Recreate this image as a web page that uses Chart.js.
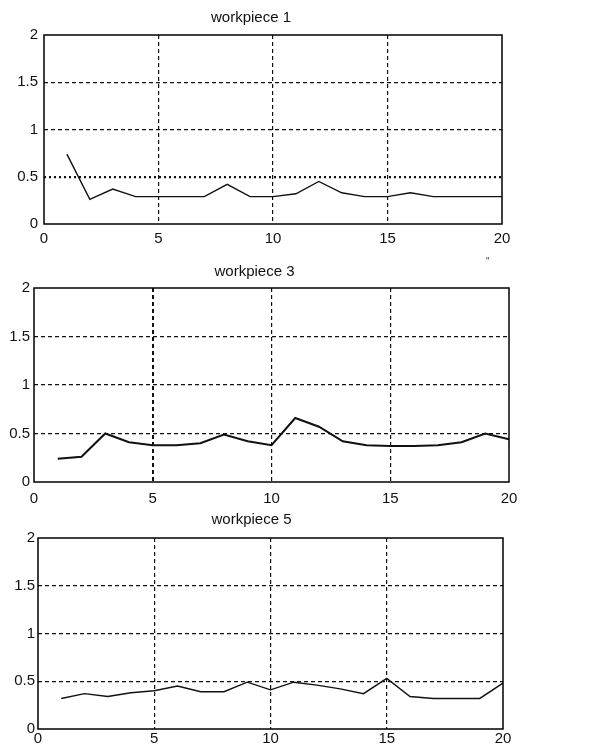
<!DOCTYPE html>
<html>
<head>
<meta charset="utf-8">
<script src="https://cdn.jsdelivr.net/npm/chart.js@4"></script>
<style>
  html, body { margin: 0; padding: 0; background: #fff; }
  body { width: 593px; height: 749px; position: relative; overflow: hidden; }
  .panel { position: absolute; left: 0; width: 593px; }
  .panel canvas { display: block; }
</style>
</head>
<body>
<div class="panel" style="top:0;height:250px"><canvas id="wp1"></canvas></div>
<div class="panel" style="top:250px;height:255px"><canvas id="wp3"></canvas></div>
<div class="panel" style="top:505px;height:244px"><canvas id="wp5"></canvas></div>

<script>
// data
const xValues = [1, 2, 3, 4, 5, 6, 7, 8, 9, 10, 11, 12, 13, 14, 15, 16, 17, 18, 19, 20];
const workpiece1 = [0.74, 0.26, 0.37, 0.29, 0.29, 0.29, 0.29, 0.42, 0.29, 0.29, 0.32, 0.45, 0.33, 0.29, 0.29, 0.33, 0.29, 0.29, 0.29, 0.29];
const workpiece3 = [0.24, 0.26, 0.50, 0.41, 0.38, 0.38, 0.40, 0.49, 0.42, 0.38, 0.66, 0.57, 0.42, 0.38, 0.37, 0.37, 0.38, 0.41, 0.50, 0.44];
const workpiece5 = [0.32, 0.37, 0.34, 0.38, 0.40, 0.45, 0.39, 0.39, 0.49, 0.41, 0.49, 0.46, 0.42, 0.37, 0.53, 0.34, 0.32, 0.32, 0.32, 0.48];
const titles = ['workpiece 1', 'workpiece 3', 'workpiece 5'];
const xMin = 0, xMax = 20, xStep = 5;
const yMin = 0, yMax = 2, yStep = 0.5;

const FONT = "'Liberation Sans', Arial, sans-serif";

// MATLAB-like closed box around the axes
const boxPlugin = {
    id: 'box',
    afterDraw(chart) {
        const { ctx, chartArea: a } = chart;
        ctx.save();
        ctx.strokeStyle = '#000';
        ctx.lineWidth = 1.5;
        ctx.setLineDash([]);
        ctx.strokeRect(a.left, a.top, a.right - a.left, a.bottom - a.top);
        ctx.restore();
    }
};

// stray mark above the second panel
const markPlugin = {
    id: 'mark',
    afterDraw(chart, args, opts) {
        if (!opts.text) return;
        const ctx = chart.ctx;
        ctx.save();
        ctx.fillStyle = '#444';
        ctx.font = '10px ' + FONT;
        ctx.fillText(opts.text, opts.x, opts.y);
        ctx.restore();
    }
};

function makePanel(canvasId, title, values, cfg) {
    const inner = (v, lo, hi) => v > lo && v < hi;
    return new Chart(document.getElementById(canvasId), {
        type: 'line',
        data: {
            datasets: [{
                data: xValues.map((x, i) => ({ x: x, y: values[i] })),
                borderColor: '#111',
                borderWidth: cfg.lineWidth,
                pointRadius: 0,
                tension: 0,
                fill: false
            }]
        },
        options: {
            responsive: true,
            maintainAspectRatio: false,
            animation: false,
            events: [],
            layout: { padding: { left: 0, right: cfg.right, top: 0, bottom: 0 } },
            plugins: {
                legend: { display: false },
                tooltip: { enabled: false },
                title: {
                    display: true,
                    text: title,
                    color: '#111',
                    font: { family: FONT, size: 15, weight: 'normal' },
                    padding: { top: cfg.titleTop, bottom: cfg.titleBottom }
                },
                mark: cfg.mark || {}
            },
            scales: {
                x: {
                    type: 'linear',
                    min: xMin,
                    max: xMax,
                    border: { display: false, dash: [4, 3] },
                    grid: {
                        drawTicks: false,
                        color: ctx => inner(ctx.tick.value, xMin, xMax) ? '#111' : 'rgba(0,0,0,0)',
                        lineWidth: ctx => (cfg.boldX && ctx.tick.value === cfg.boldX) ? 2 : 1.2
                    },
                    ticks: {
                        stepSize: xStep,
                        padding: cfg.xPad,
                        color: '#111',
                        maxRotation: 0,
                        font: { family: FONT, size: 15 }
                    },
                    afterFit: s => { s.height = cfg.xHeight; }
                },
                y: {
                    min: yMin,
                    max: yMax,
                    border: { display: false, dash: ctx => (cfg.dotY && ctx.tick && ctx.tick.value === cfg.dotY) ? [2, 3] : [4, 3] },
                    grid: {
                        drawTicks: false,
                        color: ctx => inner(ctx.tick.value, yMin, yMax) ? '#111' : 'rgba(0,0,0,0)',
                        lineWidth: ctx => (cfg.dotY && ctx.tick.value === cfg.dotY) ? 2.2 : 1.2
                    },
                    ticks: {
                        stepSize: yStep,
                        padding: cfg.yPad,
                        color: '#111',
                        font: { family: FONT, size: 15 },
                        callback: v => String(+v.toFixed(1))
                    },
                    afterFit: s => { s.width = cfg.left; }
                }
            }
        },
        plugins: [boxPlugin, markPlugin]
    });
}

makePanel('wp1', titles[0], workpiece1, {
    left: 44, right: 91, titleTop: 9, titleBottom: 8,
    xHeight: 26, xPad: 6, yPad: 6, lineWidth: 1.4, dotY: 0.5
});
makePanel('wp3', titles[1], workpiece3, {
    left: 34, right: 84, titleTop: 12.5, titleBottom: 7.5,
    xHeight: 23, xPad: 7.5, yPad: 4, lineWidth: 2, boldX: 5,
    mark: { text: '"', x: 486, y: 15 }
});
makePanel('wp5', titles[2], workpiece5, {
    left: 38, right: 90, titleTop: 6, titleBottom: 9,
    xHeight: 20, xPad: 0.5, yPad: 3, lineWidth: 1.4
});
</script>
</body>
</html>
